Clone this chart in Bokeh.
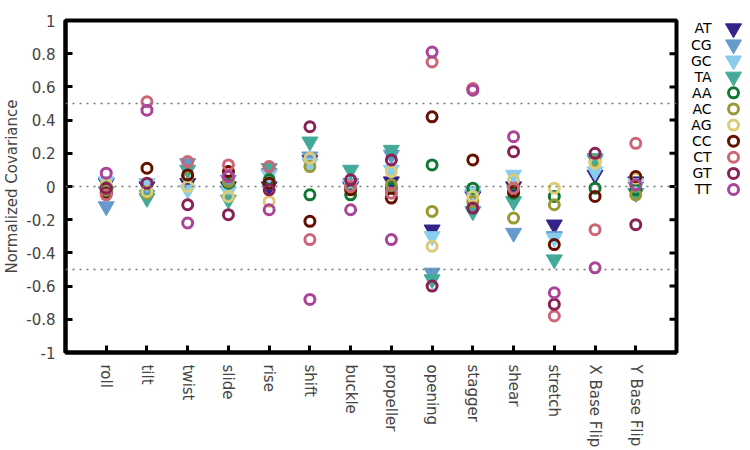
from bokeh.plotting import figure
from bokeh.layouts import row
from bokeh.models import FixedTicker, Span, Range1d, ColumnDataSource
from bokeh.core.properties import value
from bokeh.embed import file_html
from bokeh.resources import INLINE

# Step parameters along the x axis
categories = ["roll", "tilt", "twist", "slide", "rise", "shift", "buckle",
              "propeller", "opening", "stagger", "shear", "stretch",
              "X Base Flip", "Y Base Flip"]

# Normalized covariance per dinucleotide step type
AT = [0.02, 0.00, 0.02, 0.00, 0.00, 0.16, 0.00, 0.03, -0.26, -0.06, 0.00, -0.23, 0.07, 0.03]
CG = [-0.12, -0.05, 0.14, 0.04, 0.08, 0.18, 0.02, 0.19, -0.52, -0.05, -0.28, -0.30, 0.16, 0.00]
GC = [0.03, 0.02, -0.02, -0.03, 0.07, 0.14, 0.01, 0.10, -0.30, -0.03, 0.07, -0.31, 0.09, 0.02]
TA = [-0.03, -0.07, 0.10, -0.08, 0.11, 0.27, 0.10, 0.22, -0.56, -0.15, -0.09, -0.44, 0.17, -0.04]
AA = [0.00, -0.03, 0.06, 0.02, 0.04, -0.05, -0.05, -0.01, 0.13, -0.01, -0.04, -0.06, -0.01, -0.02]
AC = [-0.02, -0.04, 0.06, 0.03, 0.02, 0.12, -0.01, 0.01, -0.15, -0.09, -0.19, -0.11, 0.15, -0.05]
AG = [0.01, -0.03, 0.00, -0.06, -0.09, 0.17, 0.00, 0.09, -0.36, -0.06, 0.04, -0.01, 0.14, 0.05]
CC = [-0.04, 0.11, 0.07, 0.09, 0.02, -0.21, -0.02, -0.07, 0.42, 0.16, -0.03, -0.35, -0.06, 0.06]
CT = [-0.05, 0.51, 0.15, 0.13, 0.12, -0.32, 0.00, -0.04, 0.75, 0.59, -0.01, -0.78, -0.26, 0.26]
GT = [-0.01, 0.02, -0.11, -0.17, -0.02, 0.36, 0.04, 0.16, -0.60, -0.13, 0.21, -0.71, 0.20, -0.23]
TT = [0.08, 0.46, -0.22, 0.06, -0.14, -0.68, -0.14, -0.32, 0.81, 0.58, 0.30, -0.64, -0.49, 0.01]

series_names = ["AT", "CG", "GC", "TA", "AA", "AC", "AG", "CC", "CT", "GT", "TT"]
series_values = [AT, CG, GC, TA, AA, AC, AG, CC, CT, GT, TT]
series_colors = ["#332288", "#6699cc", "#88ccee", "#44aa99", "#117733", "#999933",
                 "#ddcc77", "#661100", "#cc6677", "#882255", "#aa4499"]
series_markers = ["inverted_triangle"] * 4 + ["circle"] * 7

y_ticks = [-1, -0.8, -0.6, -0.4, -0.2, 0, 0.2, 0.4, 0.6, 0.8, 1]
y_tick_labels = ["-1", "-0.8", "-0.6", "-0.4", "-0.2", "0", "0.2", "0.4", "0.6", "0.8", "1"]
ref_levels = [0.5, 0, -0.5]

FONT = "DejaVu Sans"
FS = "15px"
x_pos = list(range(1, len(categories) + 1))
x_max = len(categories) + 1

MAIN_W = 680
TOP, BOTTOM = 20, 96
p = figure(width=MAIN_W, height=450, x_range=Range1d(0, x_max),
           y_range=Range1d(-1, 1), output_backend="svg", toolbar_location=None,
           min_border_left=62, min_border_right=4, min_border_top=TOP,
           min_border_bottom=BOTTOM)
p.background_fill_color = "white"
p.border_fill_color = "white"
p.outline_line_color = "black"
p.outline_line_width = 4
p.xgrid.visible = False
p.ygrid.visible = False

for lvl in ref_levels:
    p.add_layout(Span(location=lvl, dimension="width", line_color="#777777",
                      line_width=1.5, line_dash="2 5"))

for name, vals, col, mk in zip(series_names, series_values, series_colors, series_markers):
    src = ColumnDataSource(dict(x=x_pos, y=vals))
    if mk == "circle":
        p.scatter("x", "y", source=src, marker="circle", size=10, fill_color=None,
                  line_color=col, line_width=3)
    else:
        p.scatter("x", "y", source=src, marker="inverted_triangle", size=16,
                  fill_color=col, line_color=col, line_width=1)

# inward ticks along the right edge of the frame
tick_len = 7 * x_max / 614
p.segment(x0=[x_max - tick_len] * len(y_ticks), y0=y_ticks,
          x1=[x_max] * len(y_ticks), y1=y_ticks, line_color="black", line_width=3)

# x axis: categories at integer positions, vertical labels
xa = p.xaxis[0]
xa.ticker = FixedTicker(ticks=x_pos)
xa.major_label_overrides = {i: c for i, c in zip(x_pos, categories)}
xa.major_label_orientation = "vertical"
xa.minor_tick_line_color = None
xa.major_tick_in = 7
xa.major_tick_out = 0
xa.major_tick_line_width = 3
xa.axis_line_width = 4
xa.major_label_text_font = FONT
xa.major_label_text_font_size = FS
xa.major_label_standoff = 12

ya = p.yaxis[0]
ya.ticker = FixedTicker(ticks=y_ticks)
ya.major_label_overrides = {t: l for t, l in zip(y_ticks, y_tick_labels)}
ya.minor_tick_line_color = None
ya.major_tick_in = 7
ya.major_tick_out = 0
ya.major_tick_line_width = 3
ya.axis_line_width = 4
ya.major_label_text_font = FONT
ya.major_label_text_font_size = FS
ya.major_label_standoff = 10
ya.axis_label = "Normalized Covariance"
ya.axis_label_text_font = FONT
ya.axis_label_text_font_size = FS
ya.axis_label_text_font_style = "normal"
ya.axis_label_standoff = 2

# Key panel: label followed by marker, one row per series.
# Its frame lines up with the main frame, so ranges are set in page pixels.
lg_w = 750 - MAIN_W
lg = figure(width=lg_w, height=450, x_range=Range1d(MAIN_W, 750),
            y_range=Range1d(450 - BOTTOM, TOP),
            output_backend="svg", toolbar_location=None, min_border=0,
            min_border_top=TOP, min_border_bottom=BOTTOM)
lg.axis.visible = False
lg.xgrid.visible = False
lg.ygrid.visible = False
lg.outline_line_color = None
row_y = [28 + 16.2 * i for i in range(len(series_names))]
lg.text(x=[711] * len(series_names), y=row_y, text=series_names,
        text_align="right", text_baseline="middle", text_font=value(FONT),
        text_font_size="14px", text_color="black")
tri_idx = [i for i, m in enumerate(series_markers) if m != "circle"]
cir_idx = [i for i, m in enumerate(series_markers) if m == "circle"]
lg.scatter(x=[733] * len(tri_idx), y=[row_y[i] for i in tri_idx], marker="inverted_triangle",
           size=16, fill_color=[series_colors[i] for i in tri_idx],
           line_color=[series_colors[i] for i in tri_idx])
lg.scatter(x=[733] * len(cir_idx), y=[row_y[i] for i in cir_idx], marker="circle",
           size=10, fill_color=None, line_color=[series_colors[i] for i in cir_idx],
           line_width=3)

layout = row(p, lg)
open("out.html", "w").write(file_html(layout, INLINE))
